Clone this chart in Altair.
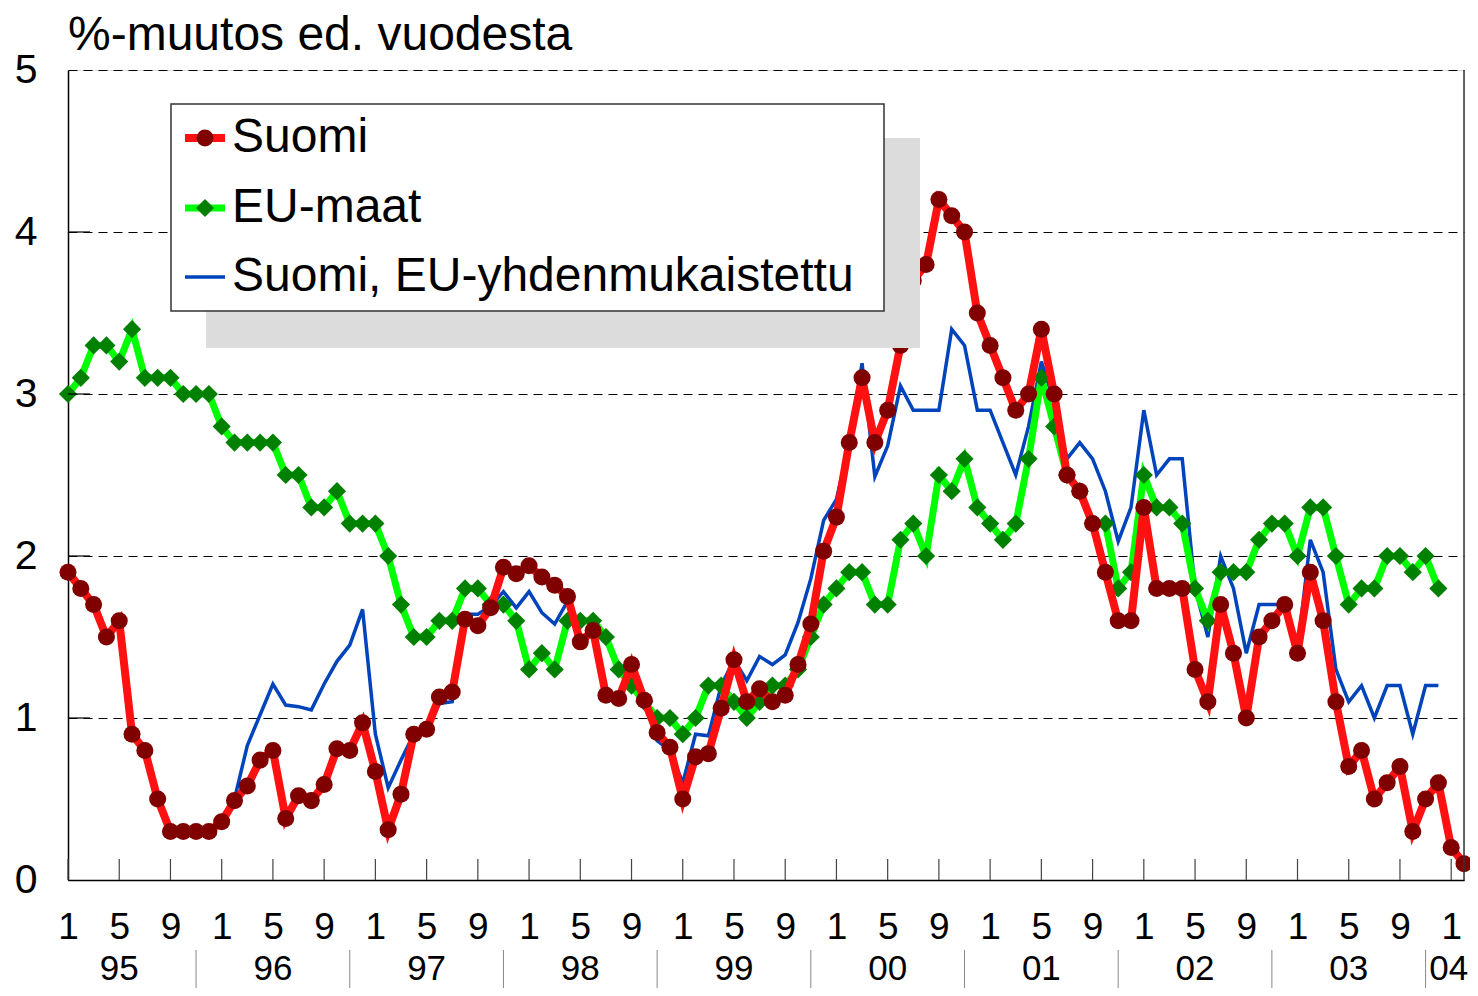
import altair as alt
import pandas as pd

# Monthly values, Jan 1995 = month 0
suomi = [1.9, 1.8, 1.7, 1.5, 1.6, 0.9, 0.8, 0.5, 0.3, 0.3, 0.3, 0.3,
         0.36, 0.49, 0.58, 0.74, 0.8, 0.38, 0.52, 0.49, 0.59, 0.81, 0.80, 0.97,
         0.67, 0.31, 0.53, 0.90, 0.93, 1.13, 1.16, 1.61, 1.57, 1.68, 1.93, 1.89,
         1.94, 1.87, 1.82, 1.75, 1.47, 1.54, 1.14, 1.12, 1.33, 1.11, 0.91, 0.82,
         0.5, 0.76, 0.78, 1.06, 1.36, 1.10, 1.18, 1.10, 1.14, 1.33, 1.58, 2.03,
         2.24, 2.7, 3.1, 2.7, 2.9, 3.3, 3.7, 3.8, 4.2, 4.1, 4.0, 3.5,
         3.3, 3.1, 2.9, 3.0, 3.4, 3.0, 2.5, 2.4, 2.2, 1.9, 1.6, 1.6,
         2.3, 1.8, 1.8, 1.8, 1.3, 1.1, 1.7, 1.4, 1.0, 1.5, 1.6, 1.7,
         1.4, 1.9, 1.6, 1.1, 0.7, 0.8, 0.5, 0.6, 0.7, 0.3, 0.5, 0.6,
         0.2, 0.1]

eu_maat = [3.0, 3.1, 3.3, 3.3, 3.2, 3.4, 3.1, 3.1, 3.1, 3.0, 3.0, 3.0,
           2.8, 2.7, 2.7, 2.7, 2.7, 2.5, 2.5, 2.3, 2.3, 2.4, 2.2, 2.2,
           2.2, 2.0, 1.7, 1.5, 1.5, 1.6, 1.6, 1.8, 1.8, 1.7, 1.7, 1.6,
           1.3, 1.4, 1.3, 1.6, 1.6, 1.6, 1.5, 1.3, 1.2, 1.1, 1.0, 1.0,
           0.9, 1.0, 1.2, 1.2, 1.1, 1.0, 1.1, 1.2, 1.2, 1.3, 1.5, 1.7,
           1.8, 1.9, 1.9, 1.7, 1.7, 2.1, 2.2, 2.0, 2.5, 2.4, 2.6, 2.3,
           2.2, 2.1, 2.2, 2.6, 3.1, 2.8, 2.5, 2.4, 2.2, 2.2, 1.8, 1.9,
           2.5, 2.3, 2.3, 2.2, 1.8, 1.6, 1.9, 1.9, 1.9, 2.1, 2.2, 2.2,
           2.0, 2.3, 2.3, 2.0, 1.7, 1.8, 1.8, 2.0, 2.0, 1.9, 2.0, 1.8]

# HICP series starts Jan 1996 (month 12)
hicp_start = 12
suomi_hicp = [0.36, 0.5, 0.83, 1.02, 1.21, 1.08, 1.07, 1.05, 1.21, 1.35, 1.45, 1.67,
              0.9, 0.57, 0.74, 0.9, 0.93, 1.09, 1.10, 1.64, 1.64, 1.69, 1.78, 1.68,
              1.78, 1.65, 1.58, 1.72, 1.47, 1.54, 1.14, 1.09, 1.33, 1.11, 0.86, 0.8,
              0.6, 0.9, 0.89, 1.2, 1.36, 1.23, 1.38, 1.33, 1.39, 1.59, 1.86, 2.22,
              2.35, 2.7, 3.19, 2.49, 2.68, 3.05, 2.9, 2.9, 2.9, 3.4, 3.3, 2.9,
              2.9, 2.7, 2.5, 2.8, 3.2, 2.95, 2.6, 2.7, 2.6, 2.4, 2.09, 2.3,
              2.9, 2.5, 2.6, 2.6, 1.8, 1.5, 2.0, 1.8, 1.4, 1.7, 1.7, 1.7,
              1.42, 2.1, 1.9, 1.3, 1.1, 1.2, 1.0, 1.2, 1.2, 0.9, 1.2, 1.2]

month_ticks = list(range(0, 109, 4))
y_ticks = [0, 1, 2, 3, 4, 5]
year_labels = ["95", "96", "97", "98", "99", "00", "01", "02", "03", "04"]
year_label_pos = [4, 16, 28, 40, 52, 64, 76, 88, 100, 107.8]
year_sep_pos = [10, 22, 34, 46, 58, 70, 82, 94, 106]

legend_names = ["Suomi", "EU-maat", "Suomi, EU-yhdenmukaistettu"]

W, H = 1396, 810
FONT = "Liberation Sans"

df_s = pd.DataFrame({"m": list(range(len(suomi))), "v": suomi})
df_e = pd.DataFrame({"m": list(range(len(eu_maat))), "v": eu_maat})
df_h = pd.DataFrame({"m": list(range(hicp_start, hicp_start + len(suomi_hicp))), "v": suomi_hicp})
df_mt = pd.DataFrame({"m": month_ticks, "v": [0.0] * len(month_ticks)})
df_yt = pd.DataFrame({"v": [t for t in y_ticks if 0 < t < 5]})
df_yl = pd.DataFrame({"m": year_label_pos, "lab": year_labels})
df_ys = pd.DataFrame({"m": year_sep_pos})
one = alt.Data(values=[{}])

xscale = alt.Scale(domain=[0, 109], nice=False, zero=False)
yscale = alt.Scale(domain=[0, 5], nice=False, zero=False)

x_axis = alt.Axis(values=month_ticks, labelExpr="'' + ((datum.value % 12) + 1)",
                  grid=False, ticks=False, domain=True, domainColor="black", domainWidth=1.5,
                  labelFontSize=37, labelPadding=29, labelColor="black", labelFont=FONT,
                  title=None, labelFlush=False, labelOverlap=False)
y_axis = alt.Axis(values=y_ticks, grid=True, gridDash=[9, 6], gridColor="black", gridOpacity=1,
                  gridWidth=1, ticks=False, domain=True, domainColor="black", domainWidth=1.5,
                  labelFontSize=41, labelPadding=31, labelColor="black", labelFont=FONT,
                  title=None, labelFlush=False)

X = alt.X("m:Q", scale=xscale, axis=x_axis)
Y = alt.Y("v:Q", scale=yscale, axis=y_axis)

blue = alt.Chart(df_h).mark_line(color="#0044bb", strokeWidth=3.5).encode(x=X, y=Y)
green_line = alt.Chart(df_e).mark_line(color="#00ff00", strokeWidth=7).encode(x=X, y=Y)
green_pts = alt.Chart(df_e).mark_point(shape="diamond", filled=True, size=330, color="#008000",
                                       opacity=1).encode(x=X, y=Y)
red_line = alt.Chart(df_s).mark_line(color="#ff1111", strokeWidth=8).encode(x=X, y=Y)
red_pts = alt.Chart(df_s).mark_point(shape="circle", filled=True, size=290, color="#800000",
                                     opacity=1).encode(x=X, y=Y)

x_ticks = alt.Chart(df_mt).mark_rule(color="#444444", strokeWidth=1.2).encode(
    x=X, y=alt.value(H), y2=alt.value(H - 21))
y_tick_marks = alt.Chart(df_yt).mark_rule(color="black", strokeWidth=1.2).encode(
    y=Y, x=alt.value(0), x2=alt.value(22))
right_border = alt.Chart(one).mark_rule(color="#333333", strokeWidth=1.5).encode(
    x=alt.value(W), y=alt.value(0), y2=alt.value(H))

year_text = alt.Chart(df_yl).mark_text(fontSize=35, font=FONT, color="black", baseline="alphabetic",
                                       align="center").encode(x=X, y=alt.value(910), text="lab:N")
year_seps = alt.Chart(df_ys).mark_rule(color="#888888", strokeWidth=1).encode(
    x=X, y=alt.value(880), y2=alt.value(918))

shadow = alt.Chart(one).mark_rect(color="#dcdcdc").encode(
    x=alt.value(138), x2=alt.value(852), y=alt.value(68), y2=alt.value(278))
box = alt.Chart(one).mark_rect(fill="white", stroke="#333333", strokeWidth=1.5).encode(
    x=alt.value(103), x2=alt.value(816), y=alt.value(34), y2=alt.value(241))

row_y = [68, 138, 207]
leg_red_line = alt.Chart(one).mark_rule(color="#ff1111", strokeWidth=8).encode(
    x=alt.value(117), x2=alt.value(157), y=alt.value(row_y[0]))
leg_red_pt = alt.Chart(one).mark_point(shape="circle", filled=True, size=290, color="#800000",
                                       opacity=1).encode(x=alt.value(137), y=alt.value(row_y[0]))
leg_green_line = alt.Chart(one).mark_rule(color="#00ff00", strokeWidth=7).encode(
    x=alt.value(117), x2=alt.value(157), y=alt.value(row_y[1]))
leg_green_pt = alt.Chart(one).mark_point(shape="diamond", filled=True, size=330, color="#008000",
                                         opacity=1).encode(x=alt.value(137), y=alt.value(row_y[1]))
leg_blue_line = alt.Chart(one).mark_rule(color="#0044bb", strokeWidth=3.5).encode(
    x=alt.value(117), x2=alt.value(157), y=alt.value(row_y[2]))
leg_texts = [
    alt.Chart(one).mark_text(text=legend_names[k], fontSize=48, font=FONT, color="black",
                             align="left", baseline="middle").encode(
        x=alt.value(164), y=alt.value(row_y[k]))
    for k in range(3)
]

title = alt.Chart(one).mark_text(text="%-muutos ed. vuodesta", fontSize=48, font=FONT,
                                 color="black", align="left", baseline="alphabetic").encode(
    x=alt.value(0), y=alt.value(-20))

chart = alt.layer(
    blue, green_line, green_pts, red_line, red_pts,
    x_ticks, y_tick_marks, right_border,
    shadow, box, leg_red_line, leg_red_pt, leg_green_line, leg_green_pt, leg_blue_line,
    *leg_texts, title, year_text, year_seps,
).properties(
    width=W, height=H,
    autosize=alt.AutoSizeParams(type="none"),
    padding={"left": 60, "top": 62, "right": 6, "bottom": 108},
).configure_view(stroke=None).configure(font=FONT)

chart.save("out.html", embed_options={"renderer": "svg", "actions": False})
